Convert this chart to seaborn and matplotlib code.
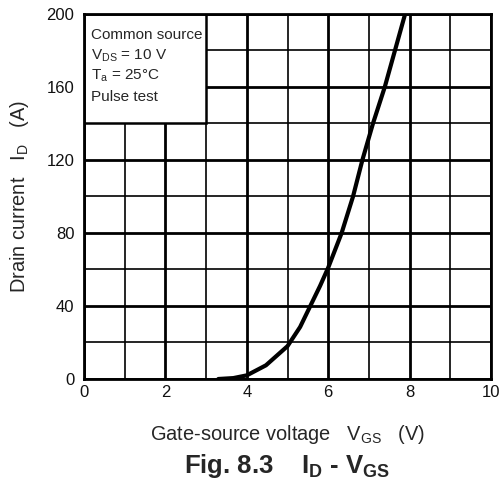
import numpy as np
import pandas as pd
import matplotlib
matplotlib.use('Agg')
import matplotlib.pyplot as plt
import seaborn as sns
from matplotlib.patches import Rectangle

sns.set_style('white')
plt.rcParams['font.family'] = ['Liberation Sans', 'DejaVu Sans']
plt.rcParams['mathtext.default'] = 'regular'

# ID - VGS curve
vgs = [3.3, 3.67, 4.0, 4.47, 5.0, 5.31, 5.56, 5.8, 6.0, 6.33, 6.61, 6.84, 7.1, 7.39, 7.64, 7.89]
id_a = [0, 0.5, 2, 7.5, 18, 28.5, 40, 51, 61, 80, 100, 120, 140, 160, 180, 200]

x_ticks = [0, 2, 4, 6, 8, 10]
y_ticks = [0, 40, 80, 120, 160, 200]
note_lines = ['Common source', 'V$_{DS}$ = 10 V', 'T$_{a}$ = 25°C', 'Pulse test']

df = pd.DataFrame({'VGS': vgs, 'ID': id_a})

fig = plt.figure(figsize=(5.01, 4.90), dpi=100)
ax = fig.add_axes([84 / 501, 1 - 379 / 490, 407 / 501, 365 / 490])

sns.lineplot(data=df, x='VGS', y='ID', ax=ax, color='black', linewidth=3, zorder=3)

ax.set_xlim(0, 10)
ax.set_ylim(0, 200)
ax.set_xticks(x_ticks)
ax.set_yticks(y_ticks)
ax.set_xticks(np.arange(0, 11, 1), minor=True)
ax.set_yticks(np.arange(0, 201, 20), minor=True)
ax.set_axisbelow(True)
ax.grid(which='major', color='black', linewidth=2)
ax.grid(which='minor', color='black', linewidth=1.2)
ax.tick_params(which='both', length=0, labelsize=12, colors='#111111')
ax.tick_params(axis='x', pad=4)
ax.tick_params(axis='y', pad=7)
for sp in ax.spines.values():
    sp.set_linewidth(2)
    sp.set_color('black')

# note box in the upper left corner
ax.add_patch(Rectangle((0, 140), 3, 60, facecolor='white', edgecolor='black',
                       linewidth=1.8, zorder=2))
for i, line in enumerate(note_lines):
    ax.text(0.16, 188.5 - i * 11.3, line, fontsize=11, va='center', ha='left', zorder=4)

ax.set_xlabel('Gate-source voltage   V$_{GS}$   (V)', fontsize=14.4, labelpad=17)
ax.set_ylabel('Drain current   I$_{D}$   (A)', fontsize=14.4, labelpad=11)

fig.text(287 / 501, 1 - 466 / 490, 'Fig. 8.3    I$_{D}$ - V$_{GS}$',
         fontsize=18.5, fontweight='bold', ha='center', va='center')

fig.savefig('out.png', dpi=100)
